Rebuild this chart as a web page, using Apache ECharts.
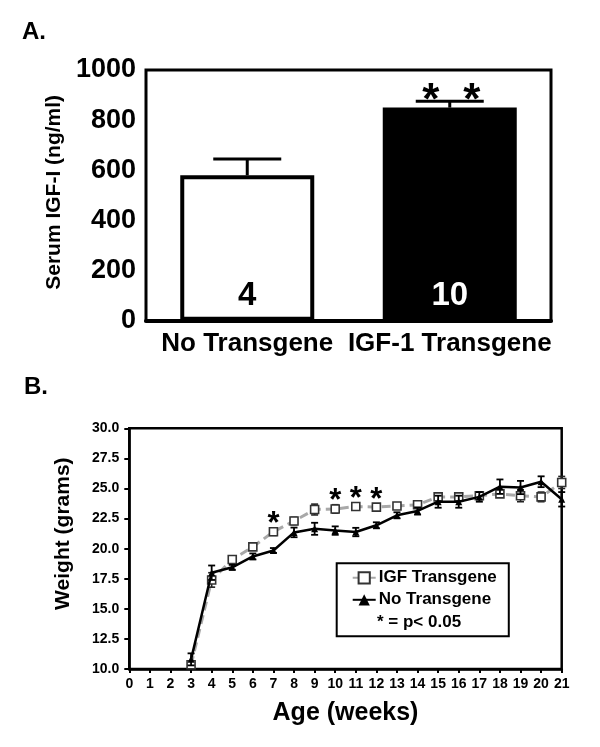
<!DOCTYPE html>
<html>
<head>
<meta charset="utf-8">
<script src="https://cdn.jsdelivr.net/npm/echarts@6/dist/echarts.min.js"></script>
<style>
html,body{margin:0;padding:0;background:#fff;}
#chart{width:600px;height:747px;}
</style>
</head>
<body>
<div id="chart"></div>
<script>
// ---------- Panel A data ----------
var groupsA = ['No Transgene', 'IGF-1 Transgene'];
var meansA = [580, 850];
var errA = [65, 25];
var countsA = [4, 10];
var sigA = [0, 1];
var yTicksA = [0, 200, 400, 600, 800, 1000];

// ---------- Panel B data ----------
var weeks = [3, 4, 5, 6, 7, 8, 9, 10, 11, 12, 13, 14, 15, 16, 17, 18, 19, 20, 21];
var igfMean = [10.35, 17.4, 19.1, 20.15, 21.4, 22.3, 23.25, 23.3, 23.5, 23.45, 23.55, 23.65, 24.3, 24.3, 24.4, 24.55, 24.4, 24.3, 25.5];
var igfErr  = [0.3, 0.6, 0.2, 0.2, 0.3, 0.3, 0.45, 0.35, 0.25, 0.2, 0.2, 0.2, 0.3, 0.3, 0.25, 0.25, 0.5, 0.4, 0.5];
var noMean  = [10.8, 18.0, 18.45, 19.35, 19.85, 21.35, 21.65, 21.5, 21.38, 21.94, 22.77, 23.13, 23.9, 23.9, 24.3, 25.15, 25.08, 25.56, 24.1];
var noErr   = [0.5, 0.6, 0.2, 0.25, 0.2, 0.4, 0.5, 0.35, 0.35, 0.25, 0.25, 0.3, 0.5, 0.5, 0.4, 0.6, 0.55, 0.45, 0.6];
var starWeeks = [7, 10, 11, 12];
var seriesNames = ['IGF Transgene', 'No Transgene'];
var sigNote = '* = p< 0.05';

var FONT = '"Liberation Sans", Arial, Helvetica, sans-serif';

var chart = echarts.init(document.getElementById('chart'), null, {renderer: 'canvas'});

function errData(means, errs) {
  return weeks.map(function (w, i) { return [w, means[i], errs[i]]; });
}

var starData = starWeeks.map(function (w) { return [w, igfMean[weeks.indexOf(w)]]; });

var option = {
  backgroundColor: '#fff',
  animation: false,
  textStyle: {fontFamily: FONT},
  title: [
    {text: 'A.', left: 17, top: 15, textStyle: {fontFamily: FONT, fontSize: 24, fontWeight: 'bold', color: '#000'}},
    {text: 'B.', left: 19, top: 370, textStyle: {fontFamily: FONT, fontSize: 24, fontWeight: 'bold', color: '#000'}}
  ],
  grid: [
    {left: 146, right: 49, top: 70, height: 250.7, show: true, borderColor: '#000', borderWidth: 3, backgroundColor: 'transparent'},
    {left: 129.3, right: 38.3, top: 428.3, height: 240.7, show: true, borderColor: '#000', borderWidth: 2.5, backgroundColor: 'transparent'}
  ],
  xAxis: [
    {
      gridIndex: 0, type: 'category', data: groupsA,
      axisLine: {lineStyle: {color: '#000', width: 4}},
      axisTick: {alignWithLabel: true, length: 8, lineStyle: {color: '#000', width: 3}},
      axisLabel: {interval: 0, hideOverlap: false, color: '#000', fontFamily: FONT, fontSize: 26, fontWeight: 'bold', margin: 10}
    },
    {
      gridIndex: 1, type: 'value', min: 0, max: 21, interval: 1,
      name: 'Age (weeks)', nameLocation: 'middle', nameGap: 32,
      nameTextStyle: {color: '#000', fontFamily: FONT, fontSize: 25, fontWeight: 'bold'},
      splitLine: {show: false},
      axisLine: {lineStyle: {color: '#000', width: 2.5}},
      axisTick: {length: 4, lineStyle: {color: '#000', width: 2}},
      axisLabel: {color: '#000', fontFamily: FONT, fontSize: 14, fontWeight: 'bold', margin: 8}
    }
  ],
  yAxis: [
    {
      gridIndex: 0, type: 'value', min: 0, max: 1000, interval: 200,
      name: 'Serum IGF-I (ng/ml)', nameLocation: 'middle', nameGap: 75, nameRotate: 90,
      nameTextStyle: {color: '#000', fontFamily: FONT, fontSize: 21, fontWeight: 'bold', padding: [0, 0, 0, 6]},
      splitLine: {show: false},
      axisLine: {lineStyle: {color: '#000', width: 4}},
      axisTick: {length: 7, lineStyle: {color: '#000', width: 3}},
      axisLabel: {color: '#000', fontFamily: FONT, fontSize: 27, fontWeight: 'bold', margin: 10,
        formatter: function (v) { return yTicksA.indexOf(v) >= 0 ? String(v) : ''; }}
    },
    {
      gridIndex: 1, type: 'value', min: 10, max: 30, interval: 2.5,
      name: 'Weight (grams)', nameLocation: 'middle', nameGap: 56, nameRotate: 90,
      nameTextStyle: {color: '#000', fontFamily: FONT, fontSize: 21, fontWeight: 'bold', padding: [0, 0, 0, 30]},
      splitLine: {show: false},
      axisLine: {lineStyle: {color: '#000', width: 2.5}},
      axisTick: {length: 5, lineStyle: {color: '#000', width: 2}},
      axisLabel: {color: '#000', fontFamily: FONT, fontSize: 14, fontWeight: 'bold', margin: 10,
        formatter: function (v) { return v.toFixed(1); }}
    }
  ],
  legend: {
    left: 336.7, top: 563.3, orient: 'vertical',
    data: seriesNames, selectedMode: false,
    itemWidth: 23, itemHeight: 14, itemGap: 5,
    padding: [6, 12, 28, 15],
    borderColor: '#000', borderWidth: 2,
    textStyle: {color: '#000', fontFamily: FONT, fontSize: 17, fontWeight: 'bold', padding: [0, 0, 0, -2]}
  },
  graphic: [
    {type: 'text', left: 377, top: 614, z: 100,
      style: {text: sigNote, fill: '#000', font: 'bold 17px ' + FONT}}
  ],
  series: [
    // Panel A bars
    {
      type: 'bar', xAxisIndex: 0, yAxisIndex: 0, barWidth: 134, z: 2,
      data: meansA.map(function (v, i) {
        return {
          value: v,
          itemStyle: i === 0 ? {color: '#fff', borderColor: '#000', borderWidth: 4} : {color: '#000', borderColor: '#000', borderWidth: 4},
          label: {color: i === 0 ? '#000' : '#fff'}
        };
      }),
      label: {show: true, position: 'insideBottom', distance: 8,
        fontFamily: FONT, fontSize: 33, fontWeight: 'bold',
        formatter: function (p) { return String(countsA[p.dataIndex]); }}
    },
    // Panel A error bars + significance stars
    {
      type: 'custom', xAxisIndex: 0, yAxisIndex: 0, z: 3,
      data: meansA.map(function (v, i) { return [i, v, errA[i], sigA[i]]; }),
      renderItem: function (params, api) {
        var base = api.coord([api.value(0), api.value(1)]);
        var top = api.coord([api.value(0), api.value(1) + api.value(2)]);
        var hw = 34;
        var children = [
          {type: 'line', shape: {x1: base[0], y1: base[1], x2: top[0], y2: top[1]}, style: {stroke: '#000', lineWidth: 3}},
          {type: 'line', shape: {x1: top[0] - hw, y1: top[1], x2: top[0] + hw, y2: top[1]}, style: {stroke: '#000', lineWidth: 3}}
        ];
        if (api.value(3)) {
          [-19, 22].forEach(function (dx) {
            children.push({type: 'text', style: {text: '*', x: top[0] + dx, y: top[1] + 1, align: 'center', verticalAlign: 'middle', font: 'bold 44px ' + FONT, fill: '#000'}});
          });
        }
        return {type: 'group', children: children};
      }
    },
    // Panel B error bars (IGF)
    {
      type: 'custom', xAxisIndex: 1, yAxisIndex: 1, z: 3, clip: false,
      data: errData(igfMean, igfErr),
      renderItem: function (params, api) {
        var lo = api.coord([api.value(0), api.value(1) - api.value(2)]);
        var hi = api.coord([api.value(0), api.value(1) + api.value(2)]);
        var hw = 3.5;
        return {type: 'group', children: [
          {type: 'line', shape: {x1: lo[0], y1: lo[1], x2: hi[0], y2: hi[1]}, style: {stroke: '#222', lineWidth: 1.6}},
          {type: 'line', shape: {x1: lo[0] - hw, y1: lo[1], x2: lo[0] + hw, y2: lo[1]}, style: {stroke: '#222', lineWidth: 1.6}},
          {type: 'line', shape: {x1: hi[0] - hw, y1: hi[1], x2: hi[0] + hw, y2: hi[1]}, style: {stroke: '#222', lineWidth: 1.6}}
        ]};
      }
    },
    // Panel B error bars (No Transgene)
    {
      type: 'custom', xAxisIndex: 1, yAxisIndex: 1, z: 5, clip: false,
      data: errData(noMean, noErr),
      renderItem: function (params, api) {
        var lo = api.coord([api.value(0), api.value(1) - api.value(2)]);
        var hi = api.coord([api.value(0), api.value(1) + api.value(2)]);
        var hw = 3.5;
        return {type: 'group', children: [
          {type: 'line', shape: {x1: lo[0], y1: lo[1], x2: hi[0], y2: hi[1]}, style: {stroke: '#000', lineWidth: 1.8}},
          {type: 'line', shape: {x1: lo[0] - hw, y1: lo[1], x2: lo[0] + hw, y2: lo[1]}, style: {stroke: '#000', lineWidth: 1.8}},
          {type: 'line', shape: {x1: hi[0] - hw, y1: hi[1], x2: hi[0] + hw, y2: hi[1]}, style: {stroke: '#000', lineWidth: 1.8}}
        ]};
      }
    },
    {
      name: seriesNames[0], type: 'line', xAxisIndex: 1, yAxisIndex: 1, z: 4, clip: false,
      data: weeks.map(function (w, i) { return [w, igfMean[i]]; }),
      symbol: 'rect', symbolSize: 8,
      itemStyle: {color: '#fff', borderColor: '#333', borderWidth: 1.6},
      lineStyle: {color: '#a8a8a8', width: 3, type: [9, 5]}
    },
    {
      name: seriesNames[1], type: 'line', xAxisIndex: 1, yAxisIndex: 1, z: 6, clip: false,
      data: weeks.map(function (w, i) { return [w, noMean[i]]; }),
      symbol: 'triangle', symbolSize: 7,
      itemStyle: {color: '#000', borderColor: '#000', borderWidth: 0},
      lineStyle: {color: '#000', width: 2.5}
    },
    // Panel B significance stars
    {
      type: 'custom', xAxisIndex: 1, yAxisIndex: 1, z: 7,
      data: starData,
      renderItem: function (params, api) {
        var p = api.coord([api.value(0), api.value(1)]);
        return {type: 'text', style: {text: '*', x: p[0], y: p[1] - 7, align: 'center', verticalAlign: 'middle', font: 'bold 31px ' + FONT, fill: '#000'}};
      }
    }
  ]
};
chart.setOption(option);
</script>
</body>
</html>
